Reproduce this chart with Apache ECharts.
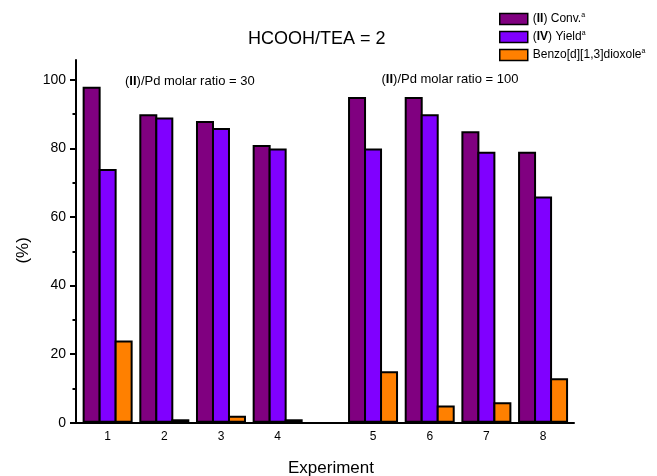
<!DOCTYPE html>
<html>
<head>
<meta charset="utf-8">
<script src="https://cdn.jsdelivr.net/npm/echarts@6/dist/echarts.min.js"></script>
<style>html,body{margin:0;padding:0;background:#fff}#c{width:657px;height:476px}</style>
</head>
<body>
<div id="c"></div>
<script>
// ---- data ----
const categories = ['1', '2', '3', '4', '5', '6', '7', '8'];
const convValues = [98, 90, 88, 81, 95, 95, 85, 79];
const yieldValues = [74, 89, 86, 80, 80, 90, 79, 66];
const benzoValues = [24, 1, 2, 1, 15, 5, 6, 13];
const seriesNames = ['(II) Conv.', '(IV) Yield', 'Benzo[d][1,3]dioxole'];
const yTickValues = [0, 20, 40, 60, 80, 100];
const yMinorTickValues = [10, 30, 50, 70, 90];
const groupSize = 4; // experiments 1-4: ratio 30, 5-8: ratio 100

// ---- styling ----
const FONT = '"Liberation Sans", Arial, Helvetica, sans-serif';
const colors = ['#800080', '#8000ff', '#ff8000'];
const yMax = 105.8;
const allValues = [convValues, yieldValues, benzoValues];

const chart = echarts.init(document.getElementById('c'), null, {renderer: 'canvas'});

const groups = [categories.slice(0, groupSize), categories.slice(groupSize)];
const series = [];
groups.forEach((cats, g) => {
  allValues.forEach((vals, s) => {
    series.push({
      name: seriesNames[s],
      type: 'bar',
      xAxisIndex: g + 1,
      yAxisIndex: g + 2,
      data: g === 0 ? vals.slice(0, groupSize) : vals.slice(groupSize),
      barWidth: 18,
      barGap: '-11.11%',
      itemStyle: {color: colors[s], borderColor: '#000', borderWidth: 2, borderRadius: 0},
      emphasis: {disabled: true},
      animation: false
    });
  });
});

const legendRich = {
  b: {fontWeight: 'bold', fontSize: 12, fontFamily: FONT, color: '#000'},
  n: {fontSize: 12, fontFamily: FONT, color: '#000'},
  sup: {fontSize: 7, fontFamily: FONT, color: '#000', verticalAlign: 'top', lineHeight: 14}
};

const gridCommon = {top: 60, bottom: 53.3, containLabel: false, outerBoundsMode: 'none'};

const option = {
  animation: false,
  textStyle: {fontFamily: FONT, color: '#000'},
  title: {
    text: 'HCOOH/TEA = 2',
    left: 248,
    top: 30,
    padding: 0,
    textStyle: {fontSize: 18, fontWeight: 'normal', fontFamily: FONT, color: '#000'}
  },
  legend: {
    orient: 'vertical',
    left: 499,
    top: 12,
    padding: 0,
    icon: 'rect',
    itemWidth: 28,
    itemHeight: 11,
    itemGap: 4,
    data: seriesNames,
    itemStyle: {borderColor: '#000', borderWidth: 1.5},
    textStyle: {fontSize: 12, fontFamily: FONT, color: '#000', lineHeight: 14, rich: legendRich},
    formatter: function (name) {
      if (name === seriesNames[0]) return '{n|(}{b|II}{n|) Conv.}{sup|a}';
      if (name === seriesNames[1]) return '{n|(}{b|IV}{n|) Yield}{sup|a}';
      return '{n|Benzo[d][1,3]dioxole}{sup|a}';
    }
  },
  grid: [
    Object.assign({left: 76, right: 83}, gridCommon),
    Object.assign({left: 79.3, width: 226.7}, gridCommon),
    Object.assign({left: 344.7, width: 226.7}, gridCommon)
  ],
  xAxis: [
    {
      gridIndex: 0, type: 'value', min: 0, max: 1,
      axisLine: {show: true, lineStyle: {color: '#000', width: 2}},
      axisTick: {show: false}, axisLabel: {show: false}, splitLine: {show: false},
      name: 'Experiment', nameLocation: 'middle', nameGap: 37,
      nameTextStyle: {fontSize: 17, fontFamily: FONT, color: '#000', padding: [0, 0, 0, 12]}
    },
    {
      gridIndex: 1, type: 'category', data: groups[0],
      axisLine: {show: false}, axisTick: {show: false},
      axisLabel: {fontSize: 12, margin: 8, color: '#000', fontFamily: FONT}
    },
    {
      gridIndex: 2, type: 'category', data: groups[1],
      axisLine: {show: false}, axisTick: {show: false},
      axisLabel: {fontSize: 12, margin: 8, color: '#000', fontFamily: FONT}
    }
  ],
  yAxis: [
    {
      gridIndex: 0, type: 'value', min: 0, max: yMax, position: 'left',
      axisLine: {show: true, lineStyle: {color: '#000', width: 2}},
      axisTick: {show: true, length: 6, customValues: yTickValues, lineStyle: {color: '#000', width: 2}},
      axisLabel: {show: true, customValues: yTickValues, fontSize: 14, margin: 10, color: '#000', fontFamily: FONT},
      splitLine: {show: false},
      name: '(%)', nameLocation: 'middle', nameGap: 44, nameRotate: 90,
      nameTextStyle: {fontSize: 17, fontFamily: FONT, color: '#000', padding: [0, 18, 0, 0]}
    },
    {
      gridIndex: 0, type: 'value', min: 0, max: yMax, position: 'left',
      axisLine: {show: false},
      axisTick: {show: true, length: 3.5, customValues: yMinorTickValues, lineStyle: {color: '#000', width: 2}},
      axisLabel: {show: false, customValues: yMinorTickValues},
      splitLine: {show: false}
    },
    {gridIndex: 1, type: 'value', min: 0, max: yMax, show: false, splitLine: {show: false}},
    {gridIndex: 2, type: 'value', min: 0, max: yMax, show: false, splitLine: {show: false}}
  ],
  graphic: [
    {
      type: 'text', left: 125, top: 75, silent: true,
      style: {
        text: '{n|(}{b|II}{n|)/Pd molar ratio = 30}',
        rich: {
          b: {fontWeight: 'bold', fontSize: 13, fontFamily: FONT, fill: '#000'},
          n: {fontSize: 13, fontFamily: FONT, fill: '#000'}
        }
      }
    },
    {
      type: 'text', left: 381.5, top: 73, silent: true,
      style: {
        text: '{n|(}{b|II}{n|)/Pd molar ratio = 100}',
        rich: {
          b: {fontWeight: 'bold', fontSize: 13, fontFamily: FONT, fill: '#000'},
          n: {fontSize: 13, fontFamily: FONT, fill: '#000'}
        }
      }
    }
  ],
  series: series
};

chart.setOption(option);
</script>
</body>
</html>
